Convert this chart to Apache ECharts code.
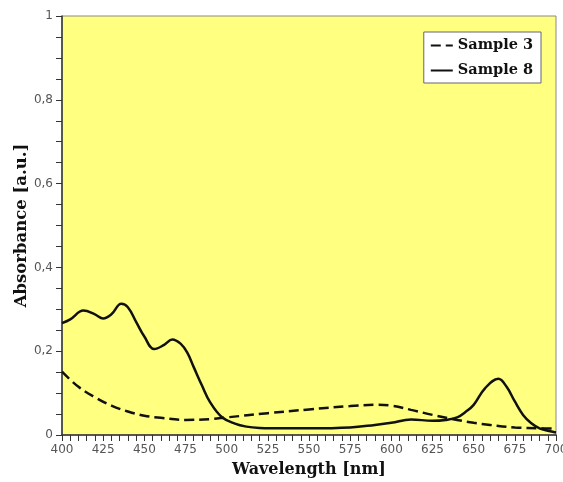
<!DOCTYPE html>
<html><head><meta charset="utf-8">
<script src="https://cdn.jsdelivr.net/npm/echarts@6/dist/echarts.min.js"></script>
<style>html,body{margin:0;padding:0;background:#fff}#c{width:563px;height:482px}</style>
</head><body><div id="c"></div>
<script>
const sample3X = [400,410,420,430,440,450,460,475,490,500,525,550,575,590,600,612,625,640,650,660,675,690,700];
const sample3Y = [0.151,0.115,0.090,0.070,0.056,0.046,0.041,0.036,0.038,0.042,0.052,0.061,0.069,0.072,0.070,0.060,0.048,0.036,0.029,0.024,0.018,0.016,0.015];
const sample8X = [400,405,413,420,425,430,436,440,445,450,456,462,467,472,476,480,485,490,497,505,512,520,535,550,575,590,600,612,625,633,640,645,650,657,665,670,675,680,685,690,695,700];
const sample8Y = [0.267,0.276,0.297,0.288,0.278,0.288,0.313,0.305,0.270,0.235,0.205,0.215,0.228,0.218,0.197,0.162,0.118,0.078,0.043,0.027,0.020,0.017,0.016,0.016,0.018,0.024,0.029,0.037,0.034,0.036,0.042,0.055,0.072,0.112,0.134,0.115,0.080,0.048,0.028,0.016,0.010,0.006];
const xTicks = {min:400, max:700, step:25};
const yTicks = {min:0, max:1, step:0.2};
const seriesNames = ['Sample 3','Sample 8'];

const chart = echarts.init(document.getElementById('c'));
const pair = (xs, ys) => xs.map((x,i)=>[x, ys[i]]);
chart.setOption({
  animation:false,
  backgroundColor:'#ffffff',
  grid:{left:62,right:7,top:16,bottom:47,show:true,backgroundColor:'#ffff80',borderColor:'#8a8a8a',borderWidth:1,
        outerBoundsMode:'none',containLabel:false},
  legend:{
    orient:'vertical', right:22, top:32, itemWidth:22, itemHeight:10, itemGap:10,
    padding:[6,8,5,6],
    backgroundColor:'#ffffff', borderColor:'#666', borderWidth:1, borderRadius:0,
    itemStyle:{opacity:0},
    textStyle:{fontFamily:'DejaVu Serif',fontWeight:'bold',fontSize:14.5,color:'#111'},
    data:seriesNames
  },
  xAxis:{
    type:'value', min:xTicks.min, max:xTicks.max, interval:xTicks.step,
    name:'Wavelength [nm]', nameLocation:'middle', nameGap:27, nameMoveOverlap:false,
    nameTextStyle:{fontFamily:'DejaVu Serif',fontWeight:'bold',fontSize:16,color:'#111'},
    axisLine:{lineStyle:{color:'#333',width:1.5}},
    axisTick:{length:6,lineStyle:{color:'#333'}},
    minorTick:{show:true,splitNumber:5,length:6,lineStyle:{color:'#333'}},
    axisLabel:{color:'#555',fontFamily:'DejaVu Sans',fontSize:12,margin:9},
    splitLine:{show:false}
  },
  yAxis:{
    type:'value', min:yTicks.min, max:yTicks.max, interval:yTicks.step,
    name:'Absorbance [a.u.]', nameLocation:'middle', nameGap:32, nameMoveOverlap:false,
    nameTextStyle:{fontFamily:'DejaVu Serif',fontWeight:'bold',fontSize:16.5,color:'#111'},
    axisLine:{lineStyle:{color:'#333',width:1.5}},
    axisTick:{length:6,lineStyle:{color:'#333'}},
    minorTick:{show:true,splitNumber:4,length:6,lineStyle:{color:'#333'}},
    axisLabel:{color:'#555',fontFamily:'DejaVu Sans',fontSize:12,margin:9,
      formatter:v=>String(Math.round(v*10)/10).replace('.',',')},
    splitLine:{show:false}
  },
  series:[
    {name:seriesNames[0],type:'line',smooth:0.4,showSymbol:false,symbol:'none',
     data:pair(sample3X,sample3Y),
     lineStyle:{color:'#111',width:2.5,type:[10,5]},itemStyle:{color:'#111'}},
    {name:seriesNames[1],type:'line',smooth:0.4,showSymbol:false,symbol:'none',
     data:pair(sample8X,sample8Y),
     lineStyle:{color:'#111',width:2.5,type:'solid'},itemStyle:{color:'#111'}}
  ]
});
</script></body></html>
